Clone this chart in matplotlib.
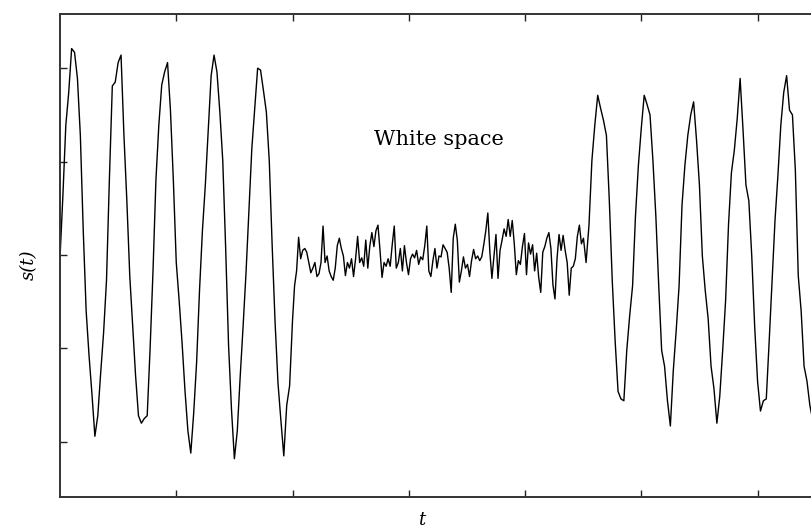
import matplotlib
matplotlib.use('Agg')
import matplotlib.pyplot as plt
import numpy as np

# signal, in tick units (ticks at -200..200, t ticks every 1.0)
dt_burst = 0.025
dt_noise = 0.0175
t_split = [0.0, 2.0, 4.5]

s_burst1 = [
    -3, 64, 139, 174, 221, 217, 189, 128, 26, -60,
    -108, -149, -194, -172, -126, -83, -27, 82, 181, 185,
    206, 214, 128, 58, -22, -76, -129, -172, -180, -175,
    -172, -100, -17, 80, 139, 182, 196, 206, 155, 80,
    -8, -49, -94, -145, -188, -212, -169, -115, -38, 26,
    75, 133, 192, 214, 196, 153, 101, 7, -97, -165,
    -218, -188, -130, -76, -19, 48, 114, 157, 200, 198,
    176, 153, 101, 10, -72, -137, -177, -215, -161, -140,
    -70,
]

s_noise = [
    -33, -17, 19, -4, 5, 7, 3, -8, -19, -14,
    -8, -23, -20, -8, 31, -8, -1, -17, -23, -27,
    -14, 10, 18, 7, -1, -22, -8, -14, -4, -23,
    -4, 20, -8, -3, -12, 16, -14, 10, 24, 9,
    26, 32, 5, -24, -8, -12, -4, -12, 11, 31,
    -14, -8, 7, -17, 10, -8, -21, -4, 1, -3,
    5, -10, -2, -5, 10, 31, -17, -23, -6, 7,
    -14, -1, -2, 11, 7, 3, -14, -40, 18, 33,
    16, -29, -17, -2, -14, -10, -23, -6, 6, -4,
    -1, -6, -2, 11, 26, 45, 3, -25, -2, 22,
    -25, 5, 16, 28, 20, 38, 20, 37, 12, -21,
    -6, -10, 9, 23, -21, 13, 1, 11, -17, 2,
    -24, -40, 3, 9, 18, 24, 7, -32, -47, -4,
    22, 5, 21, 5, -8, -43, -14, -12, -4, 20,
    32, 12, 18,
]

s_burst2 = [
    -8, 32, 101, 139, 171, 157, 144, 128, 58, -27,
    -92, -146, -154, -156, -102, -65, -33, 42, 96, 136,
    171, 161, 150, 101, 42, -33, -102, -119, -156, -183,
    -124, -81, -33, 53, 96, 128, 150, 164, 123, 75,
    -1, -38, -68, -119, -143, -180, -151, -102, -49, 32,
    88, 112, 146, 189, 134, 75, 58, -1, -76, -135,
    -167, -156, -154, -92, -27, 37, 85, 139, 174, 192,
    155, 150, 91, -22, -60, -119, -135, -161, -177,
]

y_ticks = [-200, -100, 0, 100, 200]
x_ticks = [1, 2, 3, 4, 5, 6]

t1 = t_split[0] + np.arange(len(s_burst1)) * dt_burst
t2 = t_split[1] + np.arange(1, len(s_noise) + 1) * dt_noise
t3 = t_split[2] + np.arange(1, len(s_burst2) + 1) * dt_burst
t = np.concatenate([t1, t2, t3])
s = np.concatenate([s_burst1, s_noise, s_burst2])

fig = plt.figure(figsize=(8.11, 5.32), dpi=100)
ax = fig.add_axes([60 / 811, 35 / 532, 751 / 811, 483 / 532])

ax.plot(t, s, color='black', linewidth=1.0)

ax.set_xlim(0, 751 / 116.26)
ax.set_ylim(-259, 258)
ax.set_xticks(x_ticks)
ax.set_yticks(y_ticks)
ax.tick_params(direction='in', length=5, width=1.0, top=True, right=False,
               labelbottom=False, labelleft=False, colors='#222222')
for side in ['left', 'top', 'bottom']:
    ax.spines[side].set_linewidth(1.4)
    ax.spines[side].set_color('#333333')
ax.spines['right'].set_visible(False)

serif = 'DejaVu Serif'
ax.set_ylabel('s(t)', family=serif, style='italic', fontsize=13)
ax.yaxis.set_label_coords(-0.029, 0.48)
ax.set_xlabel('t', family=serif, style='italic', fontsize=13)
ax.xaxis.set_label_coords(0.481, -0.03)

ax.text(0.505, 0.741, 'White space', transform=ax.transAxes, family=serif,
        fontsize=15, ha='center', va='center')

fig.savefig('out.png', dpi=100)
